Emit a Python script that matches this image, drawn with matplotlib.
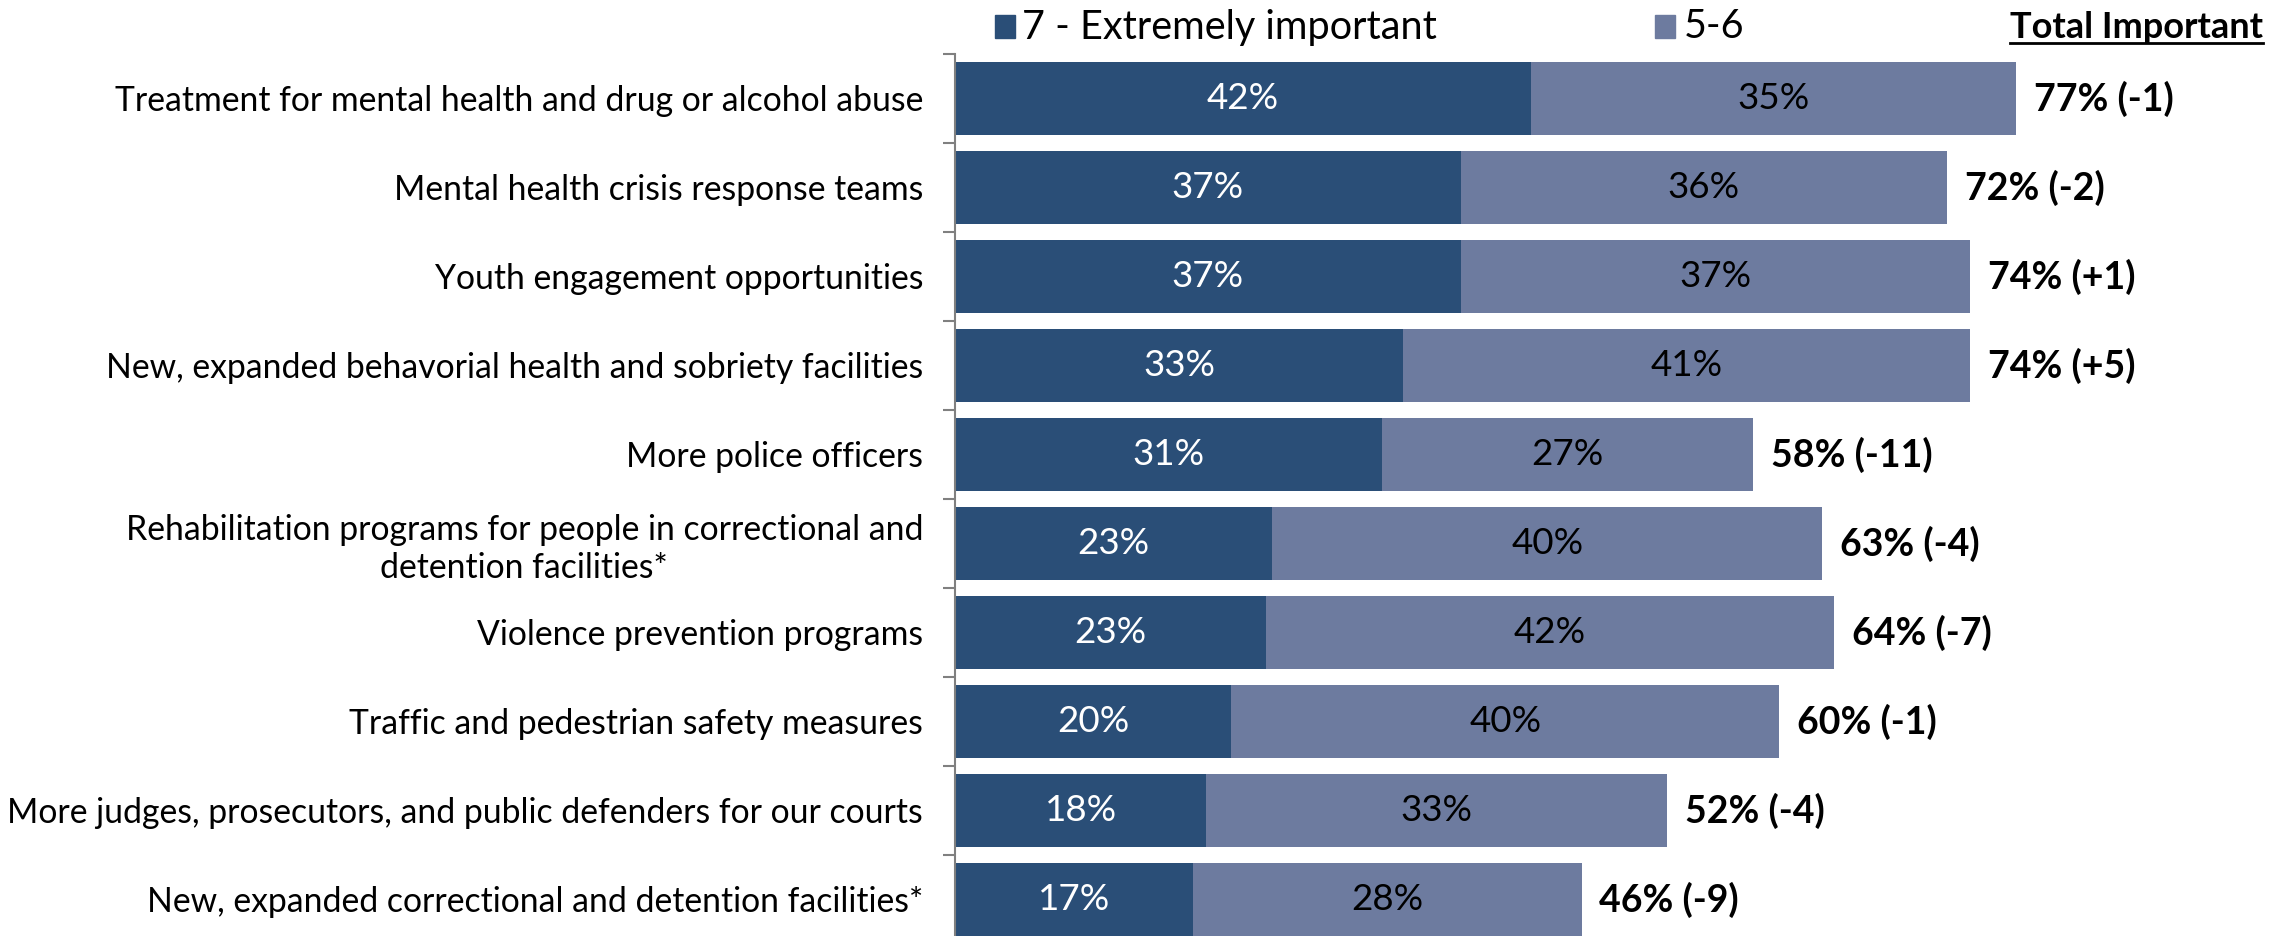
import matplotlib
matplotlib.use('Agg')
import matplotlib.pyplot as plt
from matplotlib.patches import Rectangle
from matplotlib.lines import Line2D
import numpy as np

categories = [
    "Treatment for mental health and drug or alcohol abuse",
    "Mental health crisis response teams",
    "Youth engagement opportunities",
    "New, expanded behavorial health and sobriety facilities",
    "More police officers",
    "Rehabilitation programs for people in correctional and\ndetention facilities*",
    "Violence prevention programs",
    "Traffic and pedestrian safety measures",
    "More judges, prosecutors, and public defenders for our courts",
    "New, expanded correctional and detention facilities*",
]
extremely = [41.9, 36.8, 36.8, 32.6, 31.1, 23.1, 22.6, 20.1, 18.3, 17.3]
somewhat = [35.3, 35.4, 37.1, 41.3, 27.0, 40.0, 41.4, 39.9, 33.5, 28.3]
extremely_labels = ['42%', '37%', '37%', '33%', '31%', '23%', '23%', '20%', '18%', '17%']
somewhat_labels = ['35%', '36%', '37%', '41%', '27%', '40%', '42%', '40%', '33%', '28%']
total_labels = ['77% (-1)', '72% (-2)', '74% (+1)', '74% (+5)', '58% (-11)',
                '63% (-4)', '64% (-7)', '60% (-1)', '52% (-4)', '46% (-9)']
legend_labels = ['7 - Extremely important', '5-6']
total_header = 'Total Important'

DARK = '#2A4E77'
LIGHT = '#6D7B9F'
FONT = 'Lato'
FS_CAT = 24.3
FS_NUM = 26.5
FS_TOT = 27
FS_LEG = 28.5

plt.rcParams['font.family'] = [FONT, 'DejaVu Sans']

W, H = 2283, 936
fig = plt.figure(figsize=(W / 100, H / 100), dpi=100)
px_per_unit = 13.74
ax = fig.add_axes([955 / W, (H - 944) / H, 95 * px_per_unit / W, 890 / H])
ax.set_xlim(0, 95)

y = np.arange(len(categories))
h = 0.82
ax.barh(y, extremely, height=h, color=DARK, edgecolor='none')
ax.barh(y, somewhat, left=extremely, height=h, color=LIGHT, edgecolor='none')

for i in range(len(categories)):
    ax.text(extremely[i] / 2, y[i], extremely_labels[i], ha='center', va='center',
            color='white', fontsize=FS_NUM)
    ax.text(extremely[i] + somewhat[i] / 2, y[i], somewhat_labels[i], ha='center',
            va='center', color='black', fontsize=FS_NUM)
    ax.text(extremely[i] + somewhat[i] + 1.3, y[i], total_labels[i], ha='left',
            va='center', color='black', fontsize=FS_TOT, fontweight='bold')

ax.set_ylim(len(categories) - 0.5, -0.5)
ax.set_yticks(y)
ax.set_yticklabels(categories, fontsize=FS_CAT, ha='right', multialignment='center')
ax.tick_params(axis='y', which='major', length=0, pad=23)
ax.set_yticks(np.arange(-0.5, len(categories), 1.0), minor=True)
ax.tick_params(axis='y', which='minor', length=9, width=1.5, color='#808080')
ax.set_xticks([])
for s in ['top', 'right', 'bottom']:
    ax.spines[s].set_visible(False)
ax.spines['left'].set_color('#808080')
ax.spines['left'].set_linewidth(1.5)

# legend
ly = 1 - 27 / H
fig.patches.append(Rectangle((995 / W, 1 - 38 / H), 20 / W, 23 / H,
                             transform=fig.transFigure, color=DARK))
fig.text(1022 / W, ly, legend_labels[0], fontsize=FS_LEG, va='center', ha='left')
fig.patches.append(Rectangle((1655 / W, 1 - 38 / H), 20 / W, 23 / H,
                             transform=fig.transFigure, color=LIGHT))
fig.text(1684 / W, ly, legend_labels[1], fontsize=FS_LEG, va='center', ha='left')
t = fig.text(2263 / W, ly, total_header, fontsize=26, fontweight='bold',
             va='center', ha='right')
fig.canvas.draw()
bb = t.get_window_extent()
uy = (bb.y0 + 1) / H
fig.lines.append(Line2D([bb.x0 / W, bb.x1 / W], [uy, uy], transform=fig.transFigure,
                        color='black', linewidth=2))

fig.savefig('out.png', dpi=100)
